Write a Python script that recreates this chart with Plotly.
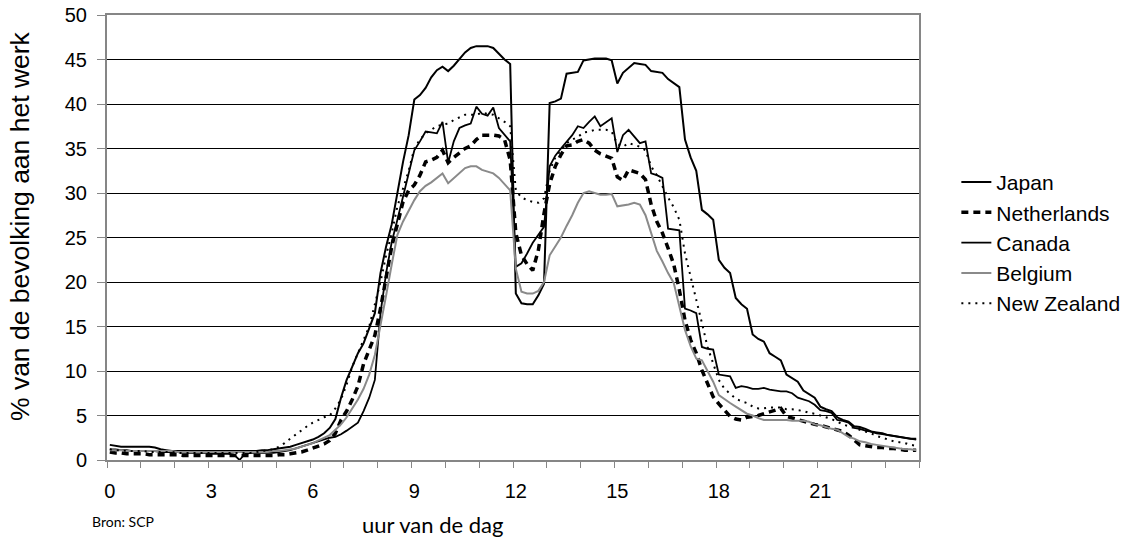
import plotly.graph_objects as go

# 10-minute time slots over the day (hours)
times = [i / 6 for i in range(144)]
hour_labels = [0, 3, 6, 9, 12, 15, 18, 21]

japan = [
    1.7, 1.6, 1.5, 1.5, 1.5, 1.5,
    1.5, 1.5, 1.4, 1.2, 1.1, 1.0,
    1.0, 1.0, 1.0, 1.0, 1.0, 1.0,
    1.0, 1.0, 1.0, 1.0, 1.0, 1.0,
    1.0, 1.0, 1.0, 1.1, 1.1, 1.2,
    1.3, 1.4, 1.5, 1.7, 1.9, 2.1,
    2.3, 2.6, 3.0, 3.6, 4.6, 7.0,
    9.0, 10.5, 12.0, 13.1, 14.8, 16.5,
    21.0, 24.0, 26.5, 30.0, 33.5, 36.5,
    40.5, 41.0, 41.8, 43.0, 43.8, 44.2,
    43.7, 44.3, 45.0, 45.8, 46.3, 46.5,
    46.5, 46.5, 46.3, 45.6, 45.0, 44.5,
    18.7, 17.6, 17.5, 17.5, 18.5, 19.8,
    40.1, 40.3, 40.6, 43.4, 43.5, 43.6,
    44.9, 45.0, 45.1, 45.1, 45.1, 44.9,
    42.3, 43.5, 44.1, 44.6, 44.5, 44.4,
    43.7, 43.6, 43.5, 42.8, 42.3, 41.9,
    36.0, 34.0, 32.5, 28.1, 27.6, 27.0,
    22.5, 21.6, 21.0, 18.2, 17.5, 17.0,
    14.1, 13.6, 13.3, 12.0, 11.6, 11.2,
    9.6, 9.2, 8.8, 7.8, 7.4, 7.0,
    6.0, 5.7, 5.5, 4.8, 4.5, 4.3,
    3.8, 3.7, 3.5, 3.2, 3.1, 3.0,
    2.8, 2.7, 2.6, 2.5, 2.4, 2.4,
]

netherlands = [
    0.9, 0.8, 0.8, 0.7, 0.7, 0.7,
    0.7, 0.6, 0.6, 0.6, 0.6, 0.6,
    0.6, 0.5, 0.5, 0.5, 0.5, 0.5,
    0.5, 0.5, 0.5, 0.5, 0.5, 0.5,
    0.5, 0.5, 0.5, 0.5, 0.5, 0.5,
    0.6, 0.6, 0.7, 0.8, 0.9, 1.1,
    1.3, 1.5, 1.8, 2.2, 3.0, 4.5,
    5.5, 6.8, 8.3, 10.8, 12.5, 14.0,
    17.0, 20.5, 24.0, 26.5, 29.0, 30.3,
    30.9, 32.0, 33.5, 33.7, 34.0, 34.8,
    33.4, 34.0, 34.5, 35.0, 35.3, 36.0,
    36.5, 36.5, 36.5, 36.4, 36.0, 33.7,
    25.5, 23.0, 22.0, 21.3, 23.6, 27.7,
    31.0, 33.0, 34.3, 35.3, 35.4, 35.8,
    36.0, 35.6, 34.8, 34.4, 34.1, 33.9,
    31.8, 31.4, 32.6, 32.4, 32.2, 31.5,
    28.7, 26.8, 25.5, 23.8, 22.0, 19.1,
    15.7, 13.5, 12.0, 10.1, 8.6, 7.1,
    6.3, 5.6, 4.9, 4.6, 4.5, 4.8,
    4.9, 5.0, 5.2, 5.4, 5.7, 5.8,
    4.9, 4.7, 4.5, 4.4, 4.2, 4.0,
    3.9, 3.7, 3.6, 3.4, 3.2, 2.8,
    2.3, 1.7, 1.6, 1.5, 1.4, 1.4,
    1.3, 1.3, 1.2, 1.1, 1.1, 1.1,
]

canada = [
    1.2, 1.2, 1.1, 1.1, 1.0, 1.0,
    1.0, 1.0, 1.0, 0.9, 0.9, 0.9,
    0.9, 0.8, 0.8, 0.8, 0.8, 0.8,
    0.7, 0.7, 0.7, 0.7, 0.6, 0.0,
    0.7, 0.8, 0.8, 0.8, 0.8, 0.8,
    0.9, 1.0, 1.1, 1.3, 1.5, 1.7,
    1.9, 2.1, 2.3, 2.5, 2.6, 2.9,
    3.3, 3.8, 4.2, 5.5, 7.0, 9.0,
    16.5, 21.0, 24.5, 27.0, 29.5, 32.0,
    34.8, 35.8, 36.9, 36.8, 36.7, 38.0,
    33.4, 35.8, 37.3, 37.6, 37.8, 39.7,
    38.9, 38.7, 39.6, 37.3, 36.5, 35.8,
    21.7, 22.1, 23.2, 24.4, 25.3, 26.2,
    33.0, 34.2, 35.0, 35.8, 36.5, 37.5,
    37.3, 38.0, 38.6, 37.5, 38.0, 38.4,
    34.6, 36.5, 37.1, 36.3, 35.6, 35.8,
    32.2, 32.0, 31.7, 26.0, 25.9, 25.8,
    17.0, 16.8, 16.5, 12.7, 12.5, 12.4,
    9.6, 9.5, 9.4, 8.1, 8.3, 8.2,
    8.0, 8.0, 8.1, 7.9, 7.8, 7.7,
    7.7, 7.5, 7.0, 6.8, 6.6, 6.2,
    5.6, 5.5, 5.3, 4.5, 4.4, 4.2,
    3.6, 3.5, 3.3, 3.2, 3.0, 2.9,
    2.8, 2.7, 2.6, 2.5, 2.4, 2.3,
]

belgium = [
    1.1, 1.1, 1.1, 1.0, 1.0, 1.0,
    1.0, 1.0, 1.0, 1.0, 1.0, 1.0,
    0.9, 0.9, 0.9, 0.9, 0.9, 0.9,
    0.9, 0.9, 0.9, 0.9, 0.9, 0.9,
    0.9, 0.9, 0.9, 0.9, 0.9, 1.0,
    1.0, 1.1, 1.2, 1.3, 1.5, 1.7,
    1.9, 2.2, 2.5, 2.8, 3.4, 4.0,
    4.8, 5.8, 6.8, 8.0, 9.6, 11.8,
    15.0, 18.5, 22.0, 25.3, 26.8, 28.0,
    29.2, 30.2, 30.8, 31.2, 31.7, 32.2,
    31.1, 31.7, 32.3, 32.8, 33.0, 33.0,
    32.6, 32.4, 32.2, 31.7, 31.0, 30.3,
    21.5, 18.9, 18.7, 18.7, 19.0, 20.0,
    23.0, 24.0, 25.0, 26.3, 27.5, 28.9,
    30.0, 30.2, 30.0, 29.8, 29.8, 29.9,
    28.5, 28.6, 28.7, 28.9, 28.7, 27.5,
    25.6, 23.5, 22.3, 21.0, 19.9, 17.2,
    14.6, 12.8, 11.4, 11.2, 10.0, 8.8,
    7.3, 6.8, 6.4, 6.0, 5.6, 5.2,
    5.0, 4.7, 4.5, 4.5, 4.5, 4.5,
    4.5, 4.4, 4.4, 4.4, 4.3, 4.0,
    3.9, 3.7, 3.5, 3.4, 3.0, 2.6,
    2.4, 2.1, 2.0, 1.8, 1.7, 1.6,
    1.5, 1.4, 1.3, 1.2, 1.2, 1.1,
]

new_zealand = [
    1.2, 1.1, 1.1, 1.0, 1.0, 1.0,
    1.0, 0.9, 0.9, 0.9, 0.9, 0.9,
    0.8, 0.8, 0.8, 0.8, 0.8, 0.8,
    0.8, 0.8, 0.8, 0.8, 0.8, 0.8,
    0.8, 0.8, 0.9, 1.0, 1.1, 1.2,
    1.5, 1.9, 2.4, 2.9, 3.4, 3.8,
    4.2, 4.5, 4.8, 5.0, 5.8, 6.8,
    8.5, 10.5, 12.0, 13.3, 15.0, 17.5,
    20.0, 23.0, 25.5, 28.5, 30.5, 32.5,
    35.0, 36.0, 36.7, 37.1, 37.5, 37.7,
    37.8, 38.2, 38.5, 38.8, 38.8, 38.8,
    39.0, 38.9, 38.8, 38.4, 38.0, 37.5,
    30.3, 29.5, 29.2, 29.0, 28.9, 29.4,
    32.5, 34.0, 34.8, 35.6, 36.0, 36.3,
    36.8, 36.9, 37.1, 37.1, 37.1, 36.9,
    35.5, 35.2, 35.6, 35.4, 35.2, 34.8,
    33.0, 32.0, 30.7, 29.5, 28.4, 27.0,
    23.2, 20.6, 18.3, 15.4, 12.7, 10.9,
    9.0, 8.0, 7.4, 6.9, 6.6, 6.4,
    6.0, 5.8, 5.8, 5.9, 5.9, 5.9,
    5.7, 5.7, 5.6, 5.5, 5.3, 5.2,
    5.0, 4.8, 4.6, 4.3, 4.0, 3.8,
    3.6, 3.4, 3.2, 3.0, 2.7, 2.5,
    2.3, 2.1, 2.0, 1.9, 1.7, 1.6,
]

FONT = "Arial, Liberation Sans, sans-serif"
HUMANIST = "Lato, Open Sans, sans-serif"

series = [
    ("Japan", japan, dict(color="black", width=2)),
    ("Netherlands", netherlands, dict(color="black", width=3.5, dash="7px,5px")),
    ("Canada", canada, dict(color="black", width=1.8)),
    ("Belgium", belgium, dict(color="#8a8a8a", width=2)),
    ("New Zealand", new_zealand, dict(color="black", width=2, dash="2px,5px")),
]

fig = go.Figure()
for name, values, line in series:
    fig.add_trace(go.Scatter(x=times, y=values, name=name, mode="lines", line=line))

fig.update_layout(
    width=1136,
    height=537,
    margin=dict(l=107, r=217, t=15, b=77, autoexpand=False),
    paper_bgcolor="white",
    plot_bgcolor="white",
    font=dict(family=FONT, size=20, color="black"),
    showlegend=True,
    legend=dict(
        x=1.046, y=0.67, xanchor="left", yanchor="top",
        font=dict(family=FONT, size=21, color="black"),
        bgcolor="rgba(0,0,0,0)",
    ),
)

fig.update_xaxes(
    automargin=False,
    range=[-1 / 12, 143.5 / 6],
    tickvals=hour_labels,
    ticktext=[str(h) for h in hour_labels],
    ticks="",
    ticklabelstandoff=12,
    tickfont=dict(family=FONT, size=20, color="black"),
    minor=dict(ticks="outside", tick0=-1 / 12, dtick=1, ticklen=6, tickcolor="#868686", tickwidth=1, showgrid=False),
    showgrid=False,
    zeroline=False,
    showline=True,
    linecolor="#868686",
    linewidth=2,
    mirror=True,
)

fig.update_yaxes(
    automargin=False,
    range=[0, 50],
    dtick=5,
    ticks="outside",
    ticklen=8,
    tickcolor="#868686",
    ticklabelstandoff=6,
    ticklabeloverflow="allow",
    tickfont=dict(family=FONT, size=20, color="black"),
    showgrid=True,
    gridcolor="black",
    gridwidth=1,
    zeroline=False,
    showline=True,
    linecolor="#868686",
    linewidth=2,
    mirror=True,
)

fig.add_annotation(
    text="% van de bevolking aan het werk", textangle=-90,
    xref="paper", yref="paper", x=-0.107, y=0.526,
    xanchor="center", yanchor="middle", showarrow=False,
    font=dict(family=FONT, size=26.5, color="black"),
)
fig.add_annotation(
    text="uur van de dag",
    xref="paper", yref="paper", x=0.401, y=-0.144,
    xanchor="center", yanchor="middle", showarrow=False,
    font=dict(family=HUMANIST, size=22, color="black"),
)
fig.add_annotation(
    text="Bron: SCP",
    xref="paper", yref="paper", x=-0.021, y=-0.139,
    xanchor="left", yanchor="middle", showarrow=False,
    font=dict(family=HUMANIST, size=14, color="black"),
)

# drop the default 8px page margin so the figure fills the window exactly
fig.write_html(
    "out.html",
    config={"displayModeBar": False},
    post_script="document.body.style.margin = '0px';",
)
